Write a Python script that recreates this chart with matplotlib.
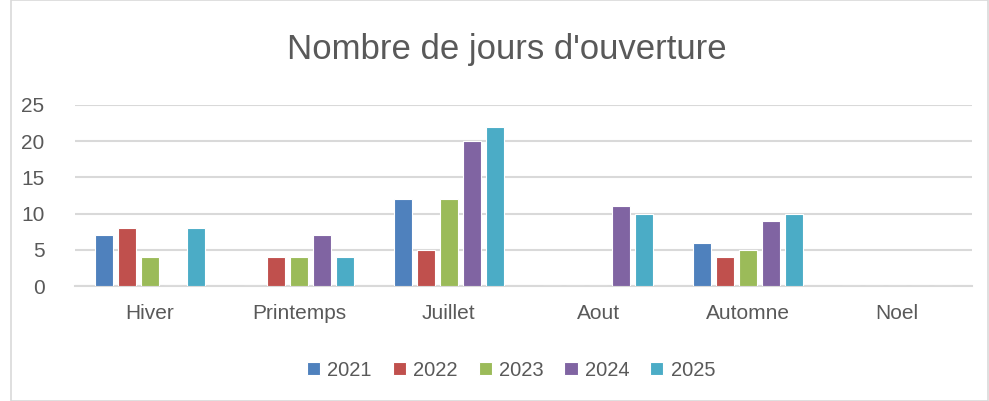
import matplotlib
matplotlib.use("Agg")
import matplotlib.pyplot as plt
from matplotlib.patches import Rectangle
import numpy as np

categories = ["Hiver", "Printemps", "Juillet", "Aout", "Automne", "Noel"]
years = ["2021", "2022", "2023", "2024", "2025"]
v2021 = [7, 0, 12, 0, 6, 0]
v2022 = [8, 4, 5, 0, 4, 0]
v2023 = [4, 4, 12, 0, 5, 0]
v2024 = [0, 7, 20, 11, 9, 0]
v2025 = [8, 4, 22, 10, 10, 0]
series = [v2021, v2022, v2023, v2024, v2025]
colors = ["#4F81BD", "#C0504D", "#9BBB59", "#8064A2", "#4BACC6"]

plt.rcParams['font.family'] = ['Liberation Sans', 'DejaVu Sans']
text_col = "#595959"

W, H = 989, 401
fig = plt.figure(figsize=(W / 100, H / 100), dpi=100)
ax = fig.add_axes([75 / W, 1 - 286 / H, (972 - 75) / W, (286 - 105) / H])

x = np.arange(len(categories))
slot = 0.154
width = 0.12
for j, (vals, col, yr) in enumerate(zip(series, colors, years)):
    ax.bar(x + (j - 2) * slot, vals, width, color=col, edgecolor="white",
           linewidth=0.8, label=yr, zorder=3)

ax.set_xlim(-0.5, len(categories) - 0.5)
ax.set_ylim(0, 25)
ax.set_yticks(range(0, 26, 5))
ax.set_xticks(x)
ax.set_xticklabels(categories)
ax.tick_params(axis='both', length=0, colors=text_col, labelsize=15)
ax.tick_params(axis='x', pad=13)
ax.tick_params(axis='y', pad=22)
for lbl in ax.get_yticklabels():
    lbl.set_horizontalalignment('right')
ax.grid(axis='y', color="#D9D9D9", linewidth=1.5, zorder=0)
for s in ["top", "right", "left"]:
    ax.spines[s].set_visible(False)
ax.spines["bottom"].set_color("#D9D9D9")
ax.spines["bottom"].set_linewidth(1.5)

fig.text(507 / W, 1 - 50 / H, "Nombre de jours d'ouverture", ha='center',
         va='center', fontsize=25, color=text_col)

fig.legend(loc='center', bbox_to_anchor=(511 / W, 1 - 370 / H), ncol=5,
           frameon=False, fontsize=14.5, labelcolor=text_col,
           handlelength=0.65, handleheight=0.65, handletextpad=0.35,
           columnspacing=1.05)

fig.patches.append(Rectangle((11 / W, 0), (988 - 11) / W, 1,
                             transform=fig.transFigure, fill=False,
                             edgecolor="#D9D9D9", linewidth=1.2))

fig.savefig("out.png", dpi=100)
